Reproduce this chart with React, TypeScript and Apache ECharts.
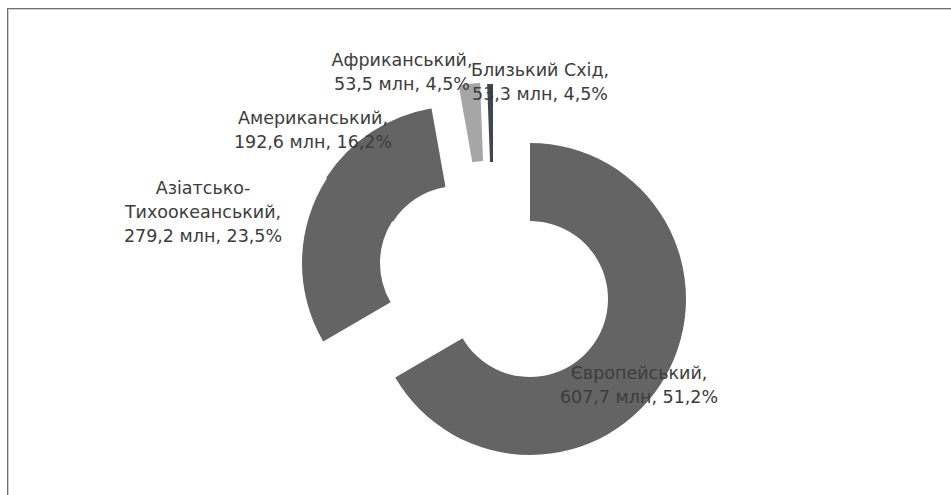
import React, { useEffect, useRef } from "react";
import * as echarts from "echarts";

// Categories (market regions)
const categories = [
  "Європейський",
  "Азіатсько-Тихоокеанський",
  "Американський",
  "Африканський",
  "Близький Схід",
];
// Slice shares as drawn in the picture (%)
const sliceShares = [66.6, 17.6, 13.0, 2.2, 0.6];
// Values printed in the data labels
const audienceMln = ["607,7", "279,2", "192,6", "53,5", "53,3"];
const audiencePct = ["51,2", "23,5", "16,2", "4,5", "4,5"];

// Styling / layout (not data)
const sliceColors = ["#646464", "#646464", "#646464", "#a6a6a6", "#3f4650"];
const sliceBorders = [0, 0, 2, 0, 0];
const sliceGroup = [0, 1, 1, 2, 3];
const groupOffsets = [
  [29, 16],
  [-43, -20],
  [-15, -44],
  [-8, -43],
];
const baseCenter = [501, 283];
const labelPos = [
  [639, 385],
  [203, 212],
  [313, 130],
  [402, 72],
  [540, 82],
];

export default function App() {
  const ref = useRef<HTMLDivElement>(null);
  useEffect(() => {
    if (!ref.current) return;
    const chart = echarts.init(ref.current, undefined, { renderer: "svg" });
    const transparent = "rgba(0,0,0,0)";
    const series = groupOffsets.map((off, g) => ({
      type: "pie",
      center: [baseCenter[0] + off[0], baseCenter[1] + off[1]],
      radius: [78, 156],
      startAngle: 90,
      clockwise: true,
      avoidLabelOverlap: false,
      silent: true,
      emphasis: { disabled: true },
      labelLine: { show: false },
      data: categories.map((name, i) => {
        const mine = sliceGroup[i] === g;
        return {
          name,
          value: sliceShares[i],
          itemStyle: mine
            ? {
                color: sliceColors[i],
                borderColor: sliceColors[i],
                borderWidth: sliceBorders[i],
              }
            : { color: transparent, borderWidth: 0 },
          label: {
            show: mine,
            position: "outside",
            formatter: () =>
              `${name.replace("-", "-\n")},\n${audienceMln[i]} млн, ${audiencePct[i]}%`,
            fontFamily: "'DejaVu Sans', sans-serif",
            fontSize: 17.5,
            lineHeight: 24,
            color: "#3c3c3c",
            align: "center",
          },
        };
      }),
      labelLayout: (params: any) => {
        const p = labelPos[params.dataIndex];
        return { x: p[0], y: p[1], align: "center", verticalAlign: "middle" };
      },
    }));
    chart.setOption({
      animation: false,
      backgroundColor: "#ffffff",
      graphic: [
        { type: "line", shape: { x1: 7, y1: 8.5, x2: 951, y2: 8.5 }, style: { stroke: "#707070", lineWidth: 1 } },
        { type: "line", shape: { x1: 7, y1: 9.5, x2: 951, y2: 9.5 }, style: { stroke: "#cfcfcf", lineWidth: 1 } },
        { type: "line", shape: { x1: 7.5, y1: 8, x2: 7.5, y2: 495 }, style: { stroke: "#707070", lineWidth: 1 } },
        { type: "line", shape: { x1: 8.5, y1: 9, x2: 8.5, y2: 495 }, style: { stroke: "#cfcfcf", lineWidth: 1 } },
      ],
      series,
    });
    return () => chart.dispose();
  }, []);
  return (
    <div
      ref={ref}
      style={{ position: "fixed", left: 0, top: 0, width: 951, height: 495 }}
    />
  );
}
